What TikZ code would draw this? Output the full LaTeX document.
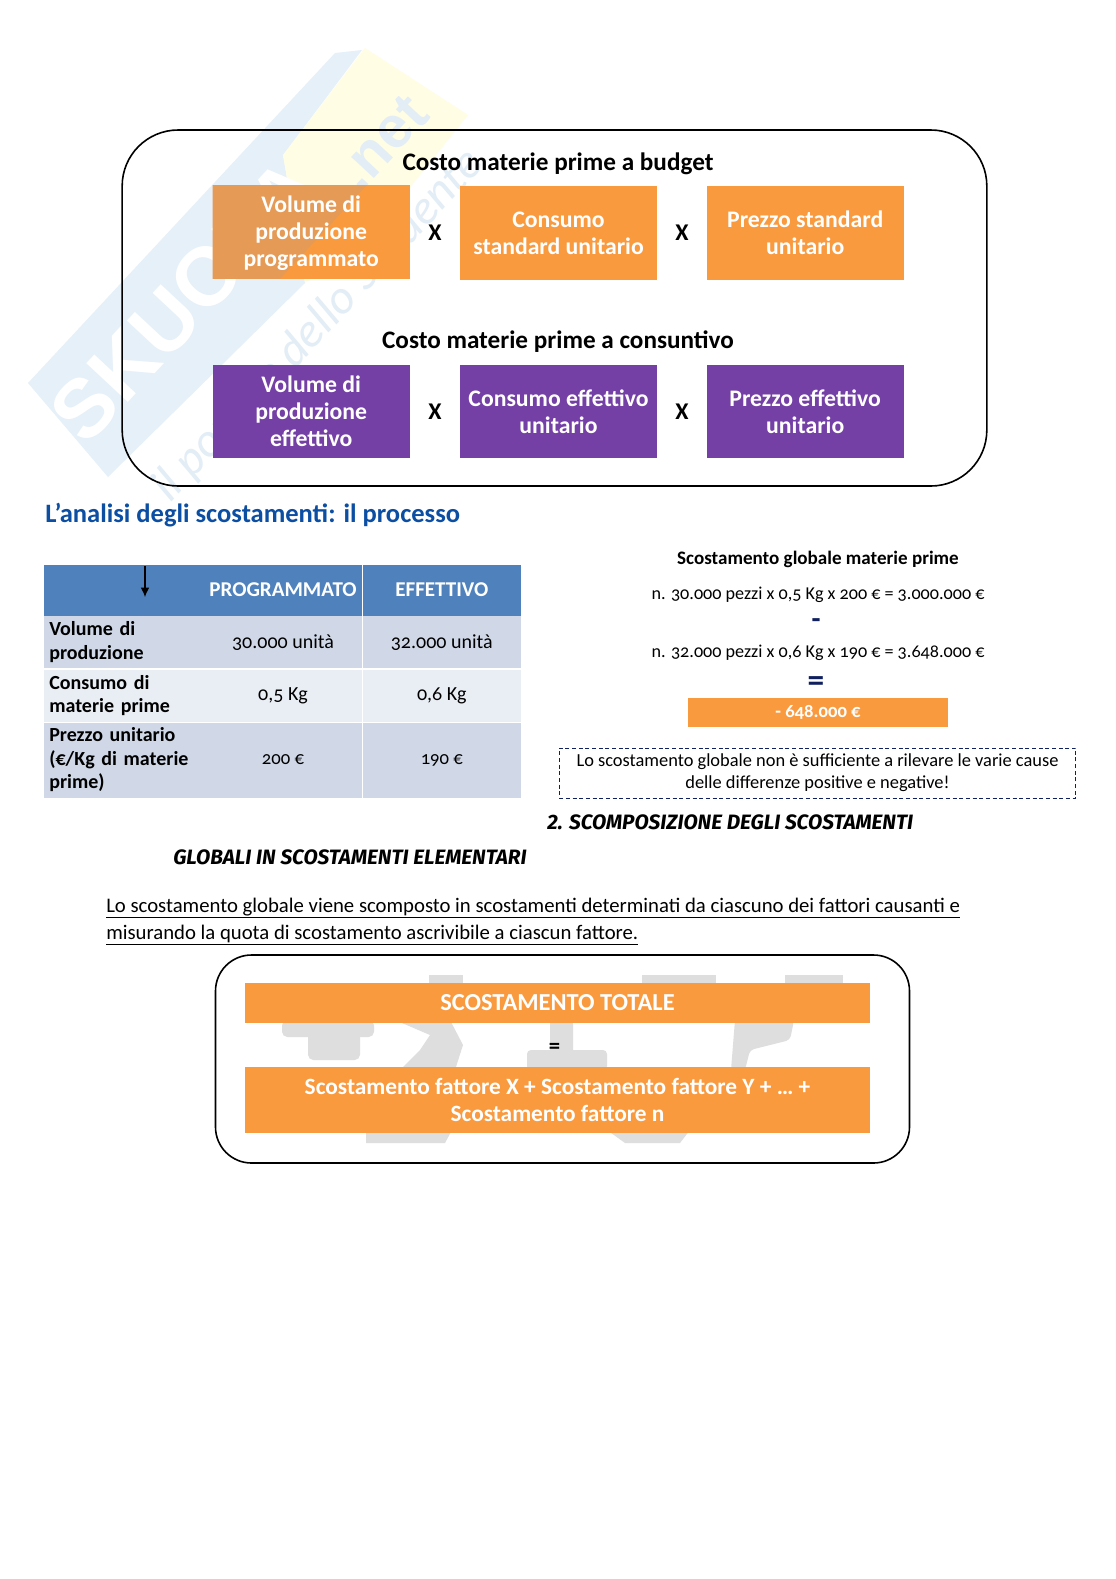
\documentclass[tikz,border=0pt]{standalone}
\usepackage{fontspec}
\usetikzlibrary{arrows.meta}
\setmainfont{Carlito}[Numbers=OldStyle]
\newfontfamily\wmfont{Liberation Sans}
\newfontfamily\handfont{Fira Sans}
\definecolor{orng}{HTML}{FA9A3F}
\definecolor{orngdark}{HTML}{E59A55}
\definecolor{purp}{HTML}{7440A5}
\definecolor{tblhead}{HTML}{4F81BD}
\definecolor{tbla}{HTML}{D0D8E8}
\definecolor{tblb}{HTML}{E9EDF4}
\definecolor{headblue}{HTML}{0B4EA2}
\definecolor{wmblue}{HTML}{E6F0F8}
\definecolor{wmyel}{HTML}{FFFDE3}
\definecolor{wmtxt}{HTML}{E3EDF6}
\definecolor{navy}{HTML}{10205F}
\definecolor{ghost}{HTML}{DEDEDE}
\tikzset{
 x=0.75pt,y=-0.75pt,
 boxtxt/.style={inner sep=0pt,align=center,text=white,minimum width=148pt,minimum height=70.2pt,font=\fontsize{17.8}{20.2}\selectfont\bfseries},
 orangebox/.style={boxtxt,fill=orng},
 purplebox/.style={boxtxt,fill=purp},
 title/.style={inner sep=0pt,font=\fontsize{18.9}{22}\selectfont\bfseries},
 times/.style={inner sep=0pt,font=\fontsize{18}{20}\selectfont\bfseries},
 frame/.style={draw=black,line width=1.2pt},
 cellc/.style={inner sep=0pt,align=center,minimum height=#1*0.75pt},
 cellrow/.style={inner xsep=3.75pt,inner ysep=0pt,align=left,text width=112pt,minimum height=#1*0.75pt,font=\fontsize{15}{17.6}\selectfont\bfseries},
 val/.style={font=\fontsize{15}{18}\selectfont},
 calc/.style={inner sep=0pt,font=\fontsize{13.6}{16}\selectfont},
 hand/.style={inner sep=0pt,anchor=west,font=\handfont\itshape\bfseries\fontsize{15.6}{18}\selectfont},
 para/.style={inner sep=0pt,anchor=west,font=\fontsize{15.55}{18}\selectfont},
 ghostshape/.style={fill=ghost,draw=none},
}
\begin{document}
\begin{tikzpicture}
\useasboundingbox (0,0) rectangle (1116,1579);
\fill[white] (0,0) rectangle (1116,1579);
% watermark
\fill[wmblue] (28,383) -- (335,53) -- (362,50) -- (283,155) -- (305,283) -- (108,477) -- cycle;
\fill[wmyel] (365,48) -- (468,115) -- (372,235) -- (305,283) -- (283,155) -- cycle;
\node[rotate=47,inner sep=0pt,text=white,font=\wmfont\bfseries\fontsize{62}{70}\selectfont] (wm1) at (185,300) {SKUOLA};
\node[rotate=47,inner sep=0pt,text=wmtxt,font=\wmfont\bfseries\fontsize{44}{50}\selectfont] (wm2) at (382,142) {.net};
\node[rotate=47,inner sep=0pt,text=wmtxt,font=\itshape\fontsize{36}{40}\selectfont] (wm3) at (318,326) {il portale dello Studente};
% ghost shapes behind the lower panel
\fill[ghostshape] (429,975) rectangle (463,984);
\fill[ghostshape] (642,975) rectangle (716,984);
\fill[ghostshape] (785,975) rectangle (843,984);
\fill[ghostshape,rounded corners=4pt] (282,1020) rectangle (374,1037);
\fill[ghostshape,rounded corners=4pt] (308,1025) rectangle (360,1060);
\fill[ghostshape] (395,1020) -- (450,1020) -- (463,1045) -- (455,1070) -- (400,1070) -- (420,1050) -- (430,1035) -- cycle;
\fill[ghostshape,rounded corners=3pt] (550,1020) rectangle (573,1055);
\fill[ghostshape,rounded corners=3pt] (527,1050) rectangle (607,1070);
\fill[ghostshape,rounded corners=3pt] (735,1020) -- (794,1020) -- (790,1040) -- (750,1050) -- (745,1070) -- (731,1070) -- cycle;
\fill[ghostshape] (366,1130) -- (452,1130) -- (445,1143) -- (366,1143) -- cycle;
\fill[ghostshape] (607,1130) -- (690,1130) -- (680,1143) -- (625,1143) -- cycle;
% panel 1
\node[frame,rounded corners=42pt,minimum width=648.5pt,minimum height=267pt,inner sep=0pt] (panelA) at (554.5,308) {};
\node[title] (tA) at (558,164) {Costo materie prime a budget};
\node[title] (tB) at (558,342) {Costo materie prime a consuntivo};
\node[orangebox] (a1) at (311.2,232) {};
\begin{scope}
\clip (212.5,185.2) rectangle (410,278.8);
\fill[orngdark] (212,185) -- (367,185) -- (280,279) -- (212,279) -- cycle;
\end{scope}
\node[inner sep=0pt,align=center,text=white,font=\fontsize{17.8}{20.2}\selectfont\bfseries] (a1t) at (311.2,233) {Volume di\\produzione\\programmato};
\node[orangebox] (a2) at (558.5,233) {Consumo\\standard unitario};
\node[orangebox] (a3) at (805.2,233) {Prezzo standard\\unitario};
\node[purplebox] (b1) at (311.2,411.5) {Volume di\\produzione\\effettivo};
\node[purplebox] (b2) at (558.5,411.5) {Consumo effettivo\\unitario};
\node[purplebox] (b3) at (805.2,411.5) {Prezzo effettivo\\unitario};
\node[times] (x1) at (435,233) {X};
\node[times] (x2) at (682,233) {X};
\node[times] (x3) at (435,412) {X};
\node[times] (x4) at (682,412) {X};
% heading
\node[inner sep=0pt,anchor=west,text=headblue,font=\fontsize{19.9}{24}\selectfont\bfseries] (head) at (45,515) {L’analisi degli scostamenti: il processo};
% table
\node[fill=tblhead,cellrow=51] (c00) at (124,590) {};
\node[fill=tblhead,cellc=51,minimum width=118.6pt,text=white,font=\fontsize{15.8}{18}\selectfont\bfseries] (c01) at (283,590) {\raisebox{-1pt}{PROGRAMMATO}};
\node[fill=tblhead,cellc=51,minimum width=118.2pt,text=white,font=\fontsize{15.8}{18}\selectfont\bfseries] (c02) at (441.8,590) {\raisebox{-1pt}{EFFETTIVO}};
\node[fill=tbla,cellrow=52] (c10) at (124,642.2) {\raisebox{-1.5pt}{Volume di}\\\raisebox{-1.5pt}{produzione}};
\node[fill=tbla,cellc=52,minimum width=118.6pt,val] (c11) at (283,642.2) {\raisebox{-1.5pt}{30.000 unità}};
\node[fill=tbla,cellc=52,minimum width=118.2pt,val] (c12) at (441.8,642.2) {\raisebox{-1.5pt}{32.000 unità}};
\node[fill=tblb,cellrow=52] (c20) at (124,695.5) {\raisebox{-1.5pt}{Consumo di}\\\raisebox{-1.5pt}{materie prime}};
\node[fill=tblb,cellc=52,minimum width=118.6pt,val] (c21) at (283,695.5) {\raisebox{-1.5pt}{0,5 Kg}};
\node[fill=tblb,cellc=52,minimum width=118.2pt,val] (c22) at (441.8,695.5) {\raisebox{-1.5pt}{0,6 Kg}};
\node[fill=tbla,cellrow=75] (c30) at (124,760) {\raisebox{-1.5pt}{Prezzo unitario}\\\raisebox{-1.5pt}{(€/Kg di materie}\\\raisebox{-1.5pt}{prime)}};
\node[fill=tbla,cellc=75,minimum width=118.6pt,font=\fontsize{14}{16}\selectfont] (c31) at (283,760) {\raisebox{-2pt}{200 €}};
\node[fill=tbla,cellc=75,minimum width=118.2pt,font=\fontsize{14}{16}\selectfont] (c32) at (441.8,760) {\raisebox{-2pt}{190 €}};
\coordinate (arA) at (145,566);
\coordinate (arB) at (145,597);
\draw[-{Latex[length=7pt,width=6.5pt]},line width=0.9pt] (arA) -- (arB);
% right column
\node[inner sep=0pt,font=\fontsize{14.3}{16}\selectfont\bfseries] (sg) at (818,559) {Scostamento globale materie prime};
\node[calc] (l1) at (818,594.5) {n. 30.000 pezzi x 0,5 Kg x 200 € = 3.000.000 €};
\node[inner sep=0pt,text=navy,font=\fontsize{22}{24}\selectfont\bfseries] (minus) at (816,623.5) {-};
\node[calc] (l2) at (818,652.5) {n. 32.000 pezzi x 0,6 Kg x 190 € = 3.648.000 €};
\node[inner sep=0pt,text=navy,font=\fontsize{25}{26}\selectfont\bfseries] (eq) at (816,684) {=};
\node[fill=orng,text=white,inner sep=0pt,minimum width=195pt,minimum height=21.7pt,font=\fontsize{14}{16}\selectfont\bfseries] (res) at (818,712.5) {- 648.000 €};
\node[draw=navy,densely dashed,line width=0.6pt,inner sep=0pt,align=center,minimum width=387.5pt,minimum height=37.5pt,font=\fontsize{13.8}{16.6}\selectfont] (note) at (817.5,773) {\raisebox{-1.5pt}{Lo scostamento globale non è sufficiente a rilevare le varie cause}\\\raisebox{-1.5pt}{delle differenze positive e negative!}};
\node[hand] (h1) at (547,822) {2. SCOMPOSIZIONE DEGLI SCOSTAMENTI};
\node[hand] (h2) at (173,857) {GLOBALI IN SCOSTAMENTI ELEMENTARI};
\node[para] (p1) at (106,908) {\underline{Lo scostamento globale viene scomposto in scostamenti determinati da ciascuno dei fattori causanti e}};
\node[para] (p2) at (106,935) {\underline{misurando la quota di scostamento ascrivibile a ciascun fattore.}};
% panel 3
\node[frame,rounded corners=27pt,minimum width=520.5pt,minimum height=156pt,inner sep=0pt] (panelC) at (562.5,1059) {};
\node[fill=orng,text=white,inner sep=0pt,minimum width=468.7pt,minimum height=30pt,font=\fontsize{18.3}{20}\selectfont\bfseries] (t1) at (557.5,1003) {SCOSTAMENTO TOTALE};
\node[inner sep=0pt,font=\fontsize{17}{18}\selectfont\bfseries] (t2) at (554.5,1048) {=};
\node[fill=orng,text=white,inner sep=0pt,align=center,minimum width=468.7pt,minimum height=49.5pt,font=\fontsize{17.5}{19.8}\selectfont\bfseries] (t3) at (557.5,1100) {Scostamento fattore X + Scostamento fattore Y + \dots{} +\\Scostamento fattore n};
\end{tikzpicture}
\end{document}
